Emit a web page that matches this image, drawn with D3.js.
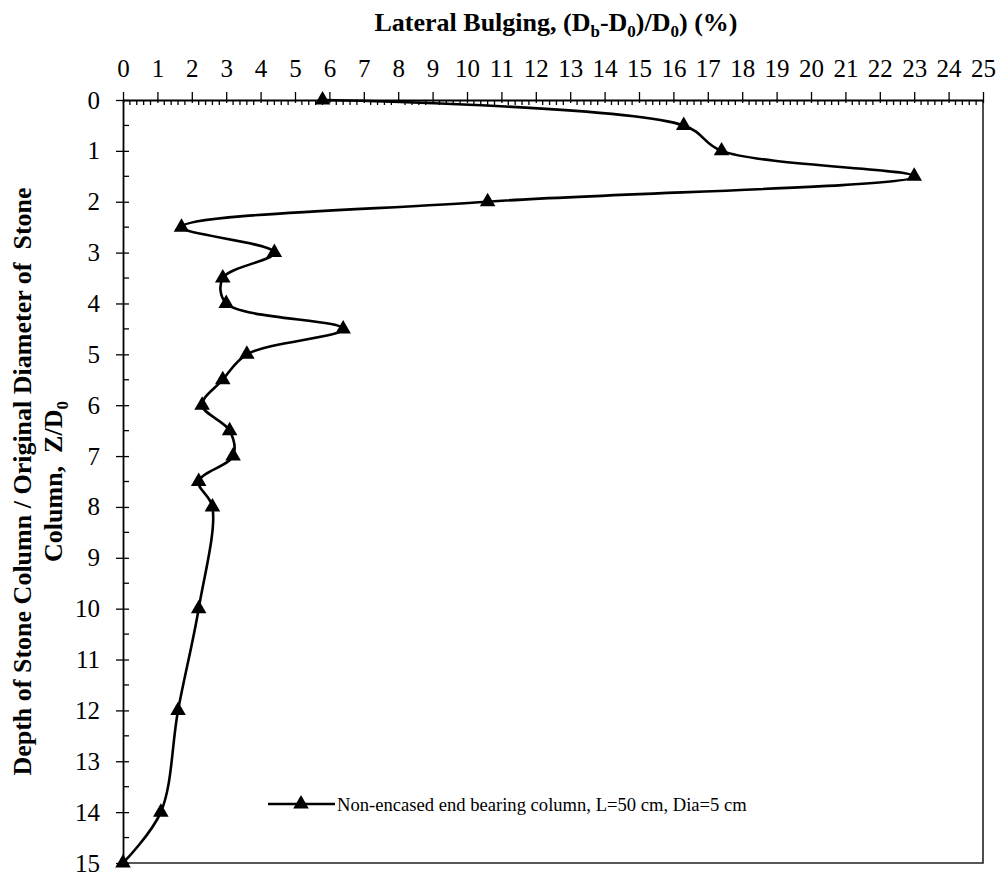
<!DOCTYPE html>
<html>
<head>
<meta charset="utf-8">
<script src="https://cdn.jsdelivr.net/npm/d3@7"></script>
<style>
  body { margin: 0; background: #fff; }
  text { font-family: "Liberation Serif", "Times New Roman", serif; fill: #000; }
</style>
</head>
<body>
<div id="chart"></div>
<script>
// Data
var bulging = [5.8, 16.3, 17.4, 23.0, 10.6, 1.7, 4.4, 2.9, 3.0, 6.4, 3.6, 2.9, 2.3, 3.1, 3.2, 2.2, 2.6, 2.2, 1.6, 1.1, 0];
var depth   = [0, 0.5, 1, 1.5, 2, 2.5, 3, 3.5, 4, 4.5, 5, 5.5, 6, 6.5, 7, 7.5, 8, 10, 12, 14, 15];
var seriesName = "Non-encased end bearing column, L=50 cm, Dia=5 cm";
var xTicks = d3.range(0, 26, 1);
var yTicks = d3.range(0, 16, 1);

var svgWidth = 1003;
var svgHeight = 874;

var margin = { top: 100, right: 20, bottom: 11, left: 123 };
var width = 983 - margin.left;
var height = 863 - margin.top;

var svg = d3.select("#chart").append("svg")
    .attr("width", svgWidth)
    .attr("height", svgHeight);

var chartGroup = svg.append("g")
    .attr("transform", `translate(${margin.left}, ${margin.top})`);

var xScale = d3.scaleLinear().domain([0, 25]).range([0, width]);
var yScale = d3.scaleLinear().domain([0, 15]).range([0, height]);

// plot area border (right + bottom)
chartGroup.append("path")
    .attr("d", `M${width},0V${height}H0`)
    .attr("fill", "none")
    .attr("stroke", "#222")
    .attr("stroke-width", 1.6);

// top axis: minor ticks inside
var xMinor = d3.range(0, 25.001, 0.2).filter(v => Math.abs(v - Math.round(v)) > 1e-6);
chartGroup.append("g")
    .selectAll("line")
    .data(xMinor)
    .enter().append("line")
    .attr("x1", d => xScale(d)).attr("x2", d => xScale(d))
    .attr("y1", 0).attr("y2", 5)
    .attr("stroke", "#000").attr("stroke-width", 1.3);

var topAxis = d3.axisTop(xScale)
    .tickValues(xTicks)
    .tickFormat(d3.format("d"))
    .tickSizeInner(8)
    .tickSizeOuter(0)
    .tickPadding(15);

var xAxis = chartGroup.append("g").call(topAxis);
xAxis.select(".domain").attr("stroke-width", 1.8);
xAxis.selectAll(".tick line").attr("y2", -8).attr("y1", 3).attr("stroke-width", 1.3);
xAxis.selectAll(".tick text")
    .style("font-size", "25px");

// left axis: minor ticks inside
var yMinor = d3.range(0.5, 15, 1);
chartGroup.append("g")
    .selectAll("line")
    .data(yMinor)
    .enter().append("line")
    .attr("x1", 0).attr("x2", 6)
    .attr("y1", d => yScale(d)).attr("y2", d => yScale(d))
    .attr("stroke", "#000").attr("stroke-width", 1.3);

var leftAxis = d3.axisLeft(yScale)
    .tickValues(yTicks)
    .tickFormat(d3.format("d"))
    .tickSizeInner(7)
    .tickSizeOuter(0)
    .tickPadding(16);

var yAxis = chartGroup.append("g").call(leftAxis);
yAxis.select(".domain").attr("stroke-width", 1.8);
yAxis.selectAll(".tick line").attr("x2", -7).attr("x1", 6).attr("stroke-width", 1.3);
yAxis.selectAll(".tick text")
    .style("font-size", "25px");

// the series
var points = bulging.map((b, i) => ({ x: b, y: depth[i] }));

var line = d3.line()
    .x(d => xScale(d.x))
    .y(d => yScale(d.y))
    .curve(d3.curveCatmullRom.alpha(0.5));

chartGroup.append("path")
    .datum(points)
    .attr("fill", "none")
    .attr("stroke", "#000")
    .attr("stroke-width", 2.6)
    .attr("d", line);

var tri = d3.symbol().type(d3.symbolTriangle).size(105);

chartGroup.append("g")
    .selectAll("path")
    .data(points)
    .enter().append("path")
    .attr("transform", d => `translate(${xScale(d.x)}, ${yScale(d.y)})`)
    .attr("d", tri)
    .attr("fill", "#000");

// legend
var legend = svg.append("g").attr("transform", "translate(268, 804)");
legend.append("line")
    .attr("x1", 0).attr("x2", 67)
    .attr("stroke", "#000").attr("stroke-width", 2.6);
legend.append("path")
    .attr("transform", "translate(33, 0)")
    .attr("d", tri)
    .attr("fill", "#000");
legend.append("text")
    .attr("x", 69)
    .attr("y", 7)
    .style("font-size", "18.6px")
    .text(seriesName);

// x title
var xTitle = svg.append("text")
    .attr("x", 556)
    .attr("y", 31)
    .attr("text-anchor", "middle")
    .style("font-size", "26px")
    .style("font-weight", "bold");
xTitle.append("tspan").text("Lateral Bulging, (D");
xTitle.append("tspan").attr("dy", 6).style("font-size", "17px").text("b");
xTitle.append("tspan").attr("dy", -6).text("-D");
xTitle.append("tspan").attr("dy", 6).style("font-size", "17px").text("0");
xTitle.append("tspan").attr("dy", -6).text(")/D");
xTitle.append("tspan").attr("dy", 6).style("font-size", "17px").text("0");
xTitle.append("tspan").attr("dy", -6).text(") (%)");

// y title, two lines
var yTitle = svg.append("g")
    .attr("transform", `translate(0, ${margin.top + height / 2}) rotate(-90)`);
yTitle.append("text")
    .attr("x", 0)
    .attr("y", 31)
    .attr("text-anchor", "middle")
    .style("font-size", "26px")
    .style("font-weight", "bold")
    .style("white-space", "pre")
    .text("Depth of Stone Column / Original Diameter of  Stone");
var yTitle2 = yTitle.append("text")
    .attr("x", 0)
    .attr("y", 62)
    .attr("text-anchor", "middle")
    .style("font-size", "26px")
    .style("font-weight", "bold")
    .style("white-space", "pre");
yTitle2.append("tspan").text("Column,  Z/D");
yTitle2.append("tspan").attr("dy", 6).style("font-size", "17px").text("0");
</script>
</body>
</html>
